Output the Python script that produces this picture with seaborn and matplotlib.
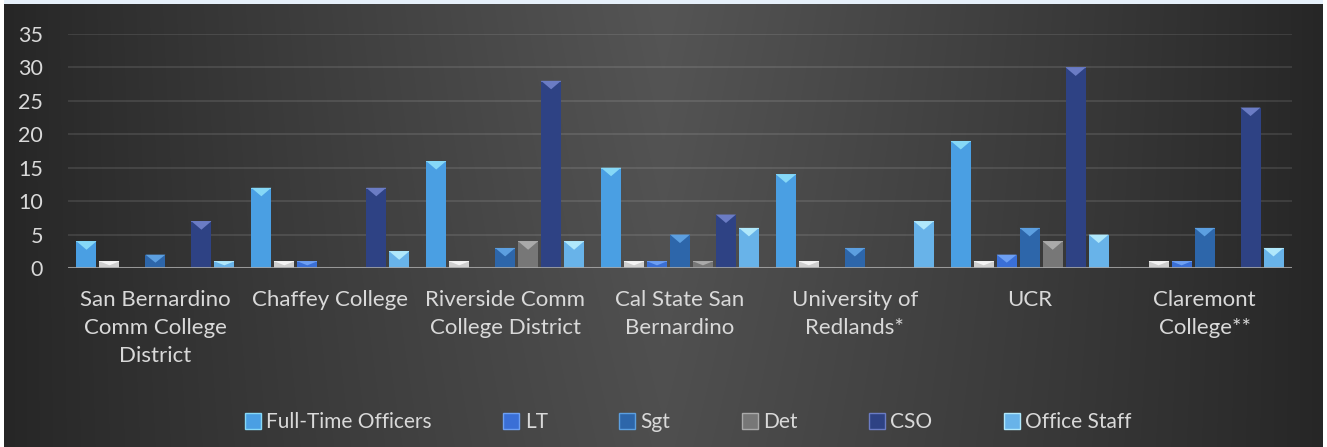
import numpy as np
import pandas as pd
import matplotlib
matplotlib.use("Agg")
import matplotlib.pyplot as plt
import seaborn as sns
from matplotlib.patches import Polygon, Rectangle
from matplotlib.lines import Line2D

# ---------------- data ----------------
categories = [
    "San Bernardino\nComm College\nDistrict",
    "Chaffey College",
    "Riverside Comm\nCollege District",
    "Cal State San\nBernardino",
    "University of\nRedlands*",
    "UCR",
    "Claremont\nCollege**",
]
series = ["Full-Time Officers", "Chief", "LT", "Sgt", "Det", "CSO", "Office Staff"]
legend_series = ["Full-Time Officers", "LT", "Sgt", "Det", "CSO", "Office Staff"]
full_time = [4, 12, 16, 15, 14, 19, 0]
chief = [1, 1, 1, 1, 1, 1, 1]
lt = [0, 1, 0, 1, 0, 2, 1]
sgt = [2, 0, 3, 5, 3, 6, 6]
det = [0, 0, 4, 1, 0, 4, 0]
cso = [7, 12, 28, 8, 0, 30, 24]
office = [1, 2.5, 4, 6, 7, 5, 3]
yticks = [0, 5, 10, 15, 20, 25, 30, 35]

values = [full_time, chief, lt, sgt, det, cso, office]
rows = []
for s, vals in zip(series, values):
    for c, v in zip(categories, vals):
        rows.append({"category": c, "series": s, "value": v})
df = pd.DataFrame(rows)

body_colors = {
    "Full-Time Officers": "#4a9fe3",
    "Chief": "#cfcfcf",
    "LT": "#3a6fd6",
    "Sgt": "#2d66aa",
    "Det": "#777777",
    "CSO": "#2e4284",
    "Office Staff": "#68b3e9",
}
top_colors = {
    "Full-Time Officers": "#86d8f7",
    "Chief": "#f4f4f4",
    "LT": "#6d9ff2",
    "Sgt": "#5c9fe0",
    "Det": "#aaaaaa",
    "CSO": "#6b7cc4",
    "Office Staff": "#b0e8fb",
}

# ---------------- figure ----------------
sns.set_theme(style="dark")
plt.rcParams["font.family"] = ["Lato", "DejaVu Sans"]

W, H = 1327, 447
fig = plt.figure(figsize=(W / 100, H / 100), dpi=100, facecolor="white")

# background gradient panel
bg = fig.add_axes([4 / W, 0, (1323 - 4) / W, (H - 4) / H], zorder=-5)
gx = np.linspace(-1, 1, 600)
gy = np.linspace(0, 1, 200)
X, Y = np.meshgrid(gx, gy)
edge, center = 0x26 / 255, 0x55 / 255
val = edge + (center - edge) * (1 - np.abs(X)) ** 0.9
val = val - 0.025 * Y * (1 - np.abs(X))
img = np.dstack([val, val, val])
bg.imshow(img, aspect="auto", extent=[0, 1, 0, 1], interpolation="bilinear")
bg.set_axis_off()

# top light strip
fig.patches.append(Rectangle((4 / W, 1 - 3.5 / H), (1323 - 4) / W, 3.5 / H,
                             transform=fig.transFigure, facecolor="#e6f0fa",
                             edgecolor="none", zorder=-4))

ax = fig.add_axes([68 / W, (H - 268) / H, (1292 - 68) / W, (268 - 34) / H])
ax.set_facecolor("none")

sns.barplot(data=df, x="category", y="value", hue="series",
            order=categories, hue_order=series, palette=body_colors,
            width=0.92, gap=0.13, saturation=1, errorbar=None,
            legend=False, ax=ax, zorder=3, linewidth=0)

# bevel triangles on top of bars
px_per_unit = (268 - 34) / 35.0
tri_h_units = 8.5 / px_per_unit
for s, cont in zip(series, ax.containers):
    for p in cont.patches:
        h = p.get_height()
        if h <= 0:
            continue
        x0 = p.get_x()
        w = p.get_width()
        th = min(tri_h_units, h * 0.6)
        tri = Polygon([(x0, h), (x0 + w, h), (x0 + w / 2, h - th)],
                      closed=True, facecolor=top_colors[s], edgecolor="none",
                      zorder=4)
        ax.add_patch(tri)
        strip = Rectangle((x0, h - 0.12), w, 0.12, facecolor=top_colors[s],
                          edgecolor="none", zorder=4, alpha=0.8)
        ax.add_patch(strip)

ax.set_xlim(-0.5, len(categories) - 0.5)
ax.set_ylim(0, 35)
ax.set_yticks(yticks)
ax.set_xlabel("")
ax.set_ylabel("")
ax.grid(axis="y", color="white", alpha=0.12, linewidth=1.2, zorder=0)
ax.grid(axis="x", visible=False)
for sp in ax.spines.values():
    sp.set_visible(False)
ax.axhline(0, color="#a6a6a6", linewidth=2.2, zorder=5, alpha=0.85)

ax.tick_params(axis="y", length=0, pad=18, labelsize=15.5, labelcolor="#d9d9d9")
ax.tick_params(axis="x", length=0, pad=16, labelsize=16, labelcolor="#d9d9d9")
for t in ax.get_xticklabels():
    t.set_linespacing(1.5)
    t.set_verticalalignment("top")

# legend
handles = [Line2D([0], [0], marker="s", linestyle="none", markersize=11,
                  markerfacecolor=body_colors[s], markeredgecolor=top_colors[s],
                  markeredgewidth=1.0) for s in legend_series]
leg = fig.legend(handles, legend_series, loc="center", ncol=6,
                 bbox_to_anchor=(688 / W, 1 - 422 / H), frameon=False,
                 fontsize=15, handlelength=0.8, handletextpad=0.25,
                 columnspacing=3.4, labelcolor="#d9d9d9")

fig.savefig("out.png", dpi=100, facecolor=fig.get_facecolor())
